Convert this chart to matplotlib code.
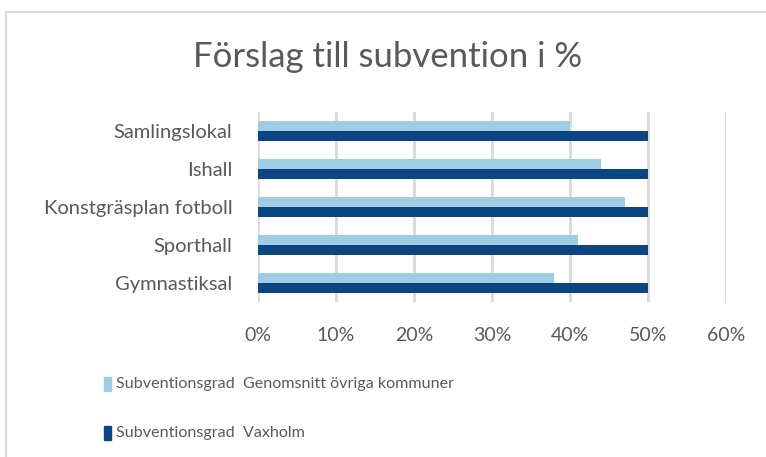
import matplotlib
matplotlib.use('Agg')
import matplotlib.pyplot as plt
from matplotlib.patches import Rectangle
import numpy as np

categories = ['Gymnastiksal', 'Sporthall', 'Konstgräsplan fotboll', 'Ishall', 'Samlingslokal']
snitt = [38, 41, 47, 44, 40]      # Genomsnitt övriga kommuner
vaxholm = [50, 50, 50, 50, 50]    # Vaxholm
xticks = [0, 10, 20, 30, 40, 50, 60]

series_names = ['Subventionsgrad  Genomsnitt övriga kommuner', 'Subventionsgrad  Vaxholm']
light = '#9ECDE5'
dark = '#0B4682'
grey = '#595959'

plt.rcParams['font.family'] = ['Lato', 'DejaVu Sans']

fig = plt.figure(figsize=(7.66, 4.57), dpi=100)
W, H = 766, 457

# chart frame
fig.patches.append(Rectangle((6 / W, -0.1), 1.2, 1.1 - 12 / H, transform=fig.transFigure,
                             fill=False, edgecolor='#D9D9D9', linewidth=1.5))

ax = fig.add_axes([258 / W, 1 - 302 / H, (726 - 258) / W, (302 - 112) / H])
y = np.arange(len(categories))
h = 0.26
ax.barh(y + h / 2, snitt, height=h, color=light, zorder=3)
ax.barh(y - h / 2, vaxholm, height=h, color=dark, zorder=3)

ax.set_xlim(0, 60)
ax.set_ylim(-0.5, len(categories) - 0.5)
ax.set_xticks(xticks)
ax.set_xticklabels([f'{t}%' for t in xticks])
ax.set_yticks(y)
ax.set_yticklabels(categories)
ax.tick_params(axis='both', length=0, colors=grey)
ax.tick_params(axis='x', pad=18, labelsize=14)
ax.tick_params(axis='y', pad=18.5, labelsize=14.5)
ax.xaxis.grid(True, color='#D9D9D9', linewidth=2, zorder=0)
for s in ax.spines.values():
    s.set_visible(False)

fig.text(388 / W, 1 - 57 / H, 'Förslag till subvention i %', ha='center', va='center',
         fontsize=25, color=grey)

# legend drawn as two rows
for i, (name, c) in enumerate(zip(series_names, [light, dark])):
    yy = 384 + 49 * i
    fig.patches.append(Rectangle((104 / W, 1 - (yy + 7) / H), 7 / W, 14 / H,
                                 transform=fig.transFigure, color=c))
    fig.text(116 / W, 1 - yy / H, name, ha='left', va='center', fontsize=11.6, color=grey)

fig.savefig('out.png', dpi=100)
